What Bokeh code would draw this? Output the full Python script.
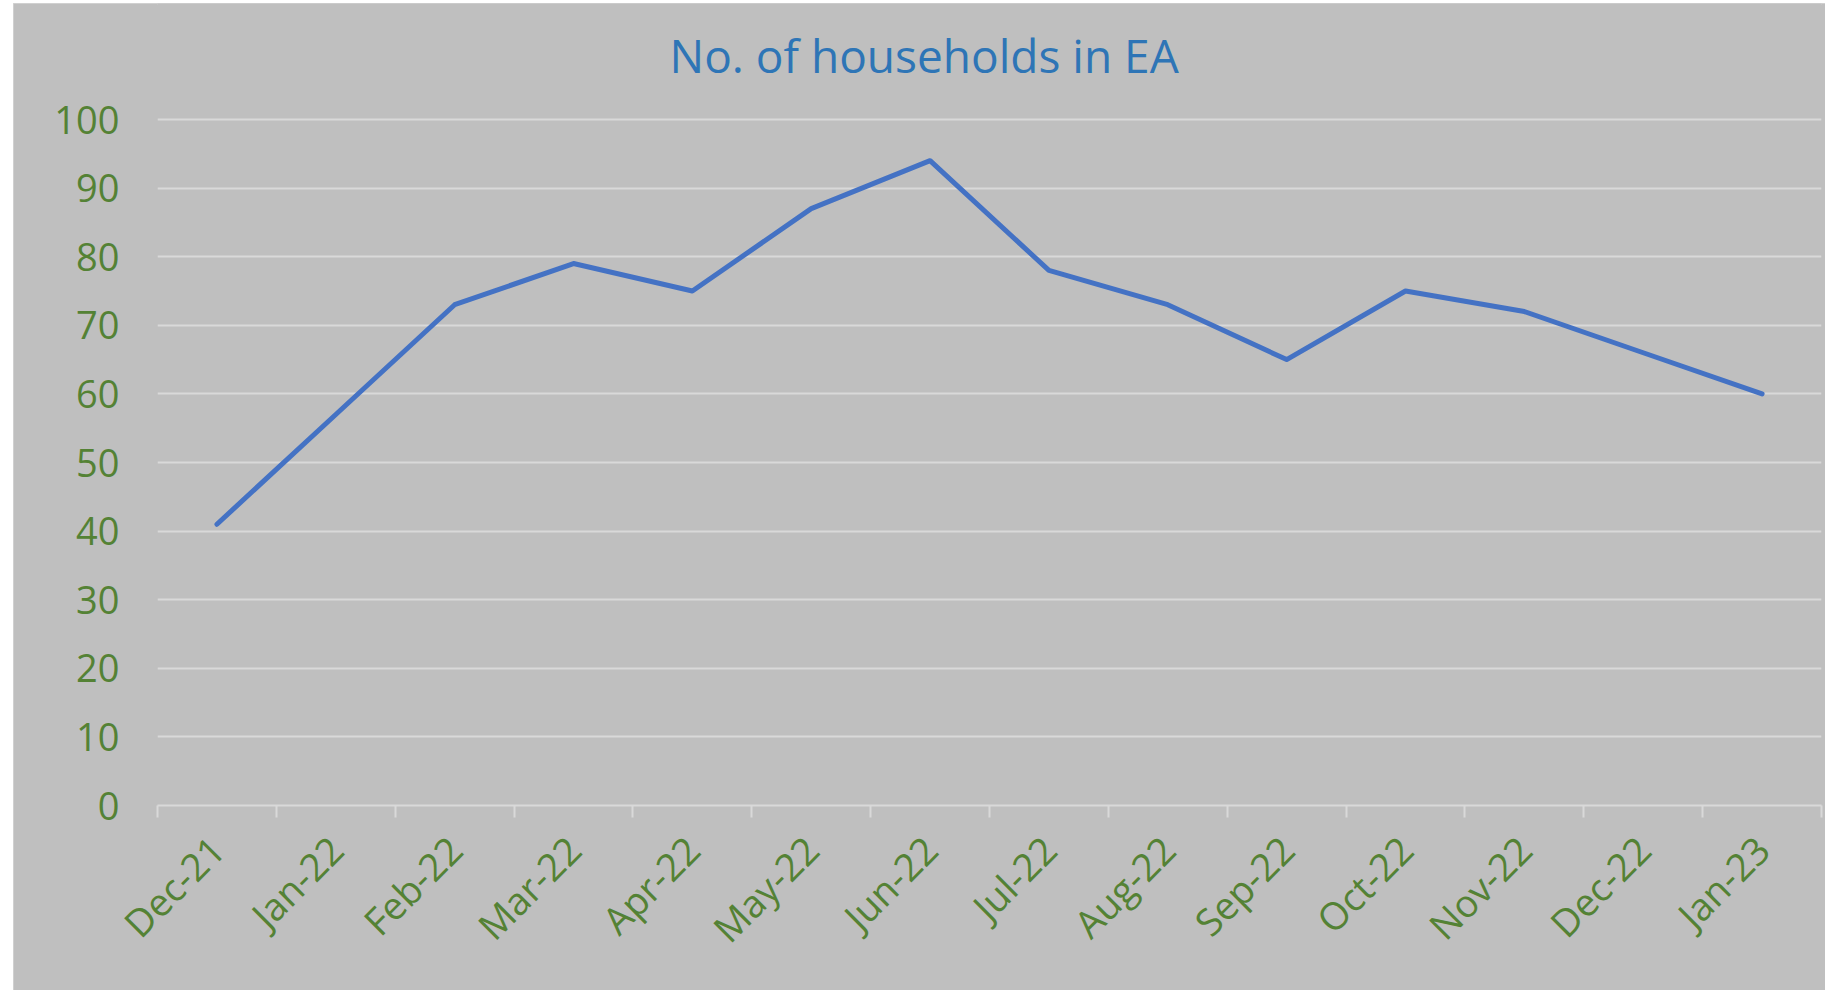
from math import pi
from bokeh.plotting import figure
from bokeh.models import FixedTicker, Range1d, Label
from bokeh.embed import file_html
from bokeh.resources import INLINE

# ---- data ----
months = ["Dec-21", "Jan-22", "Feb-22", "Mar-22", "Apr-22", "May-22", "Jun-22",
          "Jul-22", "Aug-22", "Sep-22", "Oct-22", "Nov-22", "Dec-22", "Jan-23"]
households = [41, 57, 73, 79, 75, 87, 94, 78, 73, 65, 75, 72, 66, 60]
y_ticks = [0, 10, 20, 30, 40, 50, 60, 70, 80, 90, 100]
title_text = "No. of households in EA"

FONT = "Open Sans"
GREEN = "#548235"
GRID = "#d9d9d9"
BG = "#bfbfbf"

n = len(months)
centers = [i + 0.5 for i in range(n)]
bounds = list(range(n + 1))

# frame spans the whole upper area so the title can sit inside it
PX_PER_UNIT = 6.86
y_top = 100 + 116 / PX_PER_UNIT

p = figure(width=1812, height=987, output_backend="svg", toolbar_location=None,
           x_range=Range1d(0, n), y_range=Range1d(0, y_top),
           min_border_left=144, min_border_right=4,
           min_border_top=0, min_border_bottom=185,
           background_fill_color=BG, border_fill_color=BG,
           outline_line_color=None)
p.outline_line_alpha = 0
p.styles = {"margin-left": "13px", "margin-top": "3px",
            "background-color": BG,
            "outline": "2px solid #d6d6d6", "outline-offset": "-2px"}

# y axis
p.yaxis.ticker = FixedTicker(ticks=y_ticks)
p.yaxis.axis_line_color = None
p.yaxis.axis_line_alpha = 0
p.yaxis.major_tick_line_color = None
p.yaxis.minor_tick_line_color = None
p.yaxis.major_tick_out = 0
p.yaxis.major_tick_in = 0
p.yaxis.minor_tick_out = 0
p.yaxis.minor_tick_in = 0
p.yaxis.major_label_standoff = 38
p.yaxis.major_label_text_font = FONT
p.yaxis.major_label_text_font_size = "38px"
p.yaxis.major_label_text_color = GREEN

# x axis: labels at category centres, tick marks at category boundaries
p.xaxis.ticker = FixedTicker(ticks=centers, minor_ticks=bounds)
p.xaxis.major_label_overrides = {c: m for c, m in zip(centers, months)}
p.xaxis.major_tick_line_color = None
p.xaxis.major_tick_out = 0
p.xaxis.major_tick_in = 0
p.xaxis.minor_tick_line_color = GRID
p.xaxis.minor_tick_line_width = 2
p.xaxis.minor_tick_out = 12
p.xaxis.minor_tick_in = 0
p.xaxis.axis_line_color = GRID
p.xaxis.axis_line_width = 2
p.xaxis.major_label_orientation = pi / 4
p.xaxis.major_label_standoff = 25
p.xaxis.major_label_text_font = FONT
p.xaxis.major_label_text_font_size = "38px"
p.xaxis.major_label_text_color = GREEN

# grid
p.xgrid.visible = False
p.ygrid.ticker = FixedTicker(ticks=y_ticks)
p.ygrid.grid_line_color = GRID
p.ygrid.grid_line_width = 2

# series
p.line(centers, households, line_color="#4472c4", line_width=5,
       line_join="round", line_cap="round")

# title
p.add_layout(Label(x=6.45, y=100 + 65 / PX_PER_UNIT, text=title_text,
                   text_font=FONT, text_font_size="46px", text_color="#2e75b6",
                   text_align="center", text_baseline="alphabetic"))

open("out.html", "w").write(file_html(p, INLINE))
